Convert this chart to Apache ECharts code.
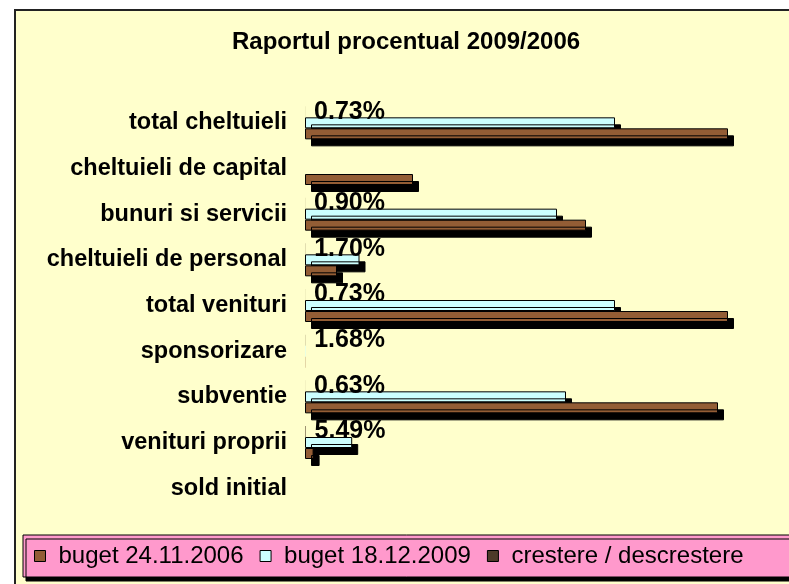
<!DOCTYPE html>
<html>
<head>
<meta charset="utf-8">
<title>Raportul procentual 2009/2006</title>
<style>
    html, body { margin: 0; padding: 0; background: #fff; }
    #chart { width: 789px; height: 584px; }
</style>
</head>
<body>
<div id="chart"></div>
<script src="https://cdn.jsdelivr.net/npm/echarts@6/dist/echarts.min.js"></script>
<script>
    // categorii, de sus in jos
    var categorii = ['total cheltuieli', 'cheltuieli de capital', 'bunuri si servicii', 'cheltuieli de personal',
        'total venituri', 'sponsorizare', 'subventie', 'venituri proprii', 'sold initial'];
    var buget2006 = [4230, 1080, 2810, 320, 4230, 2.5, 4130, 86, null];
    var buget2009 = [3100, null, 2520, 545, 3100, 4.2, 2610, 472, null];
    var crestere = [0.73, null, 0.90, 1.70, 0.73, 1.68, 0.63, 5.49, null];
    var numeSerii = ['buget 24.11.2006', 'buget 18.12.2009', 'crestere / descrestere'];

    var font = '"Liberation Sans", Arial, sans-serif';

    var myChart = echarts.init(document.getElementById('chart'));
    var umbra = { shadowColor: '#000', shadowBlur: 0, shadowOffsetX: 6, shadowOffsetY: 7 };

    // barele foarte mici (sub un pixel) nu au contur, ca in Excel
    function fara_contur(arr) {
        return arr.map(function (v) {
            if (v != null && v < 10) {
                return { value: v, itemStyle: { borderWidth: 0, shadowColor: 'rgba(0,0,0,0)' } };
            }
            return v;
        });
    }

    var option = {
        backgroundColor: '#fff',
        animation: false,
        graphic: [
            { type: 'rect', z: 0, shape: { x: 15, y: 10, width: 800, height: 600 },
              style: { fill: '#FFFFCC', stroke: '#222', lineWidth: 2 } },
            { type: 'rect', z: 1, shape: { x: 23, y: 535, width: 800, height: 42 },
              style: { fill: '#FF99CC', stroke: '#000', lineWidth: 1,
                       shadowColor: '#000', shadowBlur: 0, shadowOffsetX: 3, shadowOffsetY: 4 } }
        ],
        title: {
            text: 'Raportul procentual 2009/2006',
            left: 232,
            top: 30,
            padding: 0,
            textStyle: { fontFamily: font, fontSize: 24, fontWeight: 'bold', color: '#000' }
        },
        legend: {
            data: numeSerii,
            left: 34,
            top: 544,
            padding: 0,
            itemWidth: 11,
            itemHeight: 11,
            itemGap: 16,
            icon: 'rect',
            itemStyle: { borderColor: '#000', borderWidth: 1 },
            textStyle: { fontFamily: font, fontSize: 24, color: '#000', padding: [0, 0, 0, 8] }
        },
        grid: { left: 305, top: 100, width: 470, height: 411 },
        xAxis: {
            type: 'value',
            min: 0,
            max: 4700,
            show: false
        },
        yAxis: {
            type: 'category',
            data: categorii,
            inverse: true,
            axisLine: { show: false },
            axisTick: { show: false },
            axisLabel: { margin: 18, fontFamily: font, fontSize: 23.5, fontWeight: 'bold', color: '#000' }
        },
        // ordinea in grup: crestere sus, 2009 la mijloc, 2006 jos
        series: [
            {
                name: numeSerii[2], type: 'bar', data: crestere, barWidth: 11, barGap: '0%', z: 3,
                itemStyle: { color: '#4D3A28' },
                label: {
                    show: true,
                    position: 'right',
                    distance: 9,
                    fontFamily: font,
                    fontSize: 25,
                    fontWeight: 'bold',
                    color: '#000',
                    formatter: function (p) { return p.value.toFixed(2) + '%'; }
                }
            },
            {
                name: numeSerii[1], type: 'bar', data: fara_contur(buget2009), barWidth: 11, barGap: '0%', z: 3,
                itemStyle: Object.assign({ color: '#CCFFFF', borderColor: '#000', borderWidth: 1 }, umbra)
            },
            {
                name: numeSerii[0], type: 'bar', data: fara_contur(buget2006), barWidth: 11, barGap: '0%', z: 4,
                itemStyle: Object.assign({ color: '#935D35', borderColor: '#000', borderWidth: 1 }, umbra)
            }
        ]
    };

    myChart.setOption(option);
</script>
</body>
</html>
